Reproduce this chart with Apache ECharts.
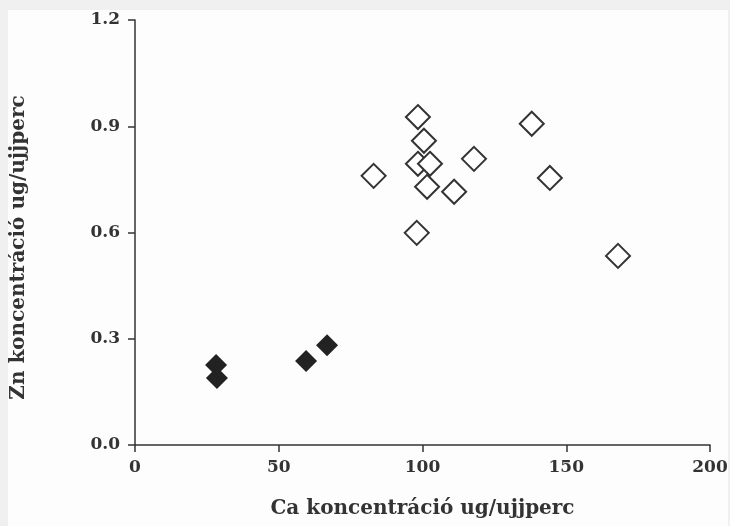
<!DOCTYPE html>
<html>
<head>
<meta charset="utf-8">
<script src="https://cdn.jsdelivr.net/npm/echarts@6/dist/echarts.min.js"></script>
<style>
  html, body { margin: 0; padding: 0; background: #f0f0f0; }
  #chart { position: absolute; left: 8px; top: 10px; width: 720px; height: 516px; background: #fdfdfd; }
</style>
</head>
<body>
<div id="chart"></div>
<script>
// nyitott rombuszok (Ca, Zn)
const openCa = [98.4, 100.5, 98.4, 102.6, 101.6, 111, 117.9, 138, 144.3, 168, 98, 83];
const openZn = [0.926, 0.859, 0.794, 0.794, 0.729, 0.715, 0.808, 0.907, 0.754, 0.534, 0.599, 0.76];
// teli rombuszok
const filledCa = [28.2, 28.5, 59.5, 66.8];
const filledZn = [0.226, 0.189, 0.237, 0.282];

const xTicks = [0, 50, 100, 150, 200];
const yTicks = [0.0, 0.3, 0.6, 0.9, 1.2];

const font = '"DejaVu Serif", "Liberation Serif", serif';

const chart = echarts.init(document.getElementById('chart'));

chart.setOption({
  animation: false,
  grid: { left: 127, top: 10, right: 18, bottom: 81, outerBoundsMode: 'none', containLabel: false },
  xAxis: {
    type: 'value',
    min: xTicks[0],
    max: xTicks[xTicks.length - 1],
    interval: 50,
    name: 'Ca koncentráció ug/ujjperc',
    nameLocation: 'middle',
    nameGap: 54,
    nameTextStyle: { fontFamily: font, fontWeight: 'bold', fontSize: 20, color: '#333' },
    axisLine: { lineStyle: { color: '#333', width: 1.5 } },
    axisTick: { length: 7, lineStyle: { color: '#333', width: 1.5 } },
    axisLabel: { fontFamily: font, fontWeight: 'bold', fontSize: 17, color: '#333', margin: 14 },
    splitLine: { show: false }
  },
  yAxis: {
    type: 'value',
    min: yTicks[0],
    max: yTicks[yTicks.length - 1],
    interval: 0.3,
    name: 'Zn koncentráció ug/ujjperc',
    nameLocation: 'middle',
    nameGap: 106,
    nameTextStyle: { fontFamily: font, fontWeight: 'bold', fontSize: 20, color: '#333', padding: [0, 30, 0, 0] },
    axisLine: { lineStyle: { color: '#333', width: 1.5 } },
    axisTick: { length: 7, lineStyle: { color: '#333', width: 1.5 } },
    axisLabel: {
      fontFamily: font, fontWeight: 'bold', fontSize: 17, color: '#333', margin: 15,
      formatter: v => v.toFixed(1)
    },
    splitLine: { show: false }
  },
  series: [
    {
      type: 'scatter',
      symbol: 'diamond',
      symbolSize: 24,
      data: openCa.map((c, i) => [c, openZn[i]]),
      itemStyle: { color: '#fff', borderColor: '#333', borderWidth: 2, opacity: 1 }
    },
    {
      type: 'scatter',
      symbol: 'diamond',
      symbolSize: 22,
      data: filledCa.map((c, i) => [c, filledZn[i]]),
      itemStyle: { color: '#222', opacity: 1 }
    }
  ]
});
</script>
</body>
</html>
